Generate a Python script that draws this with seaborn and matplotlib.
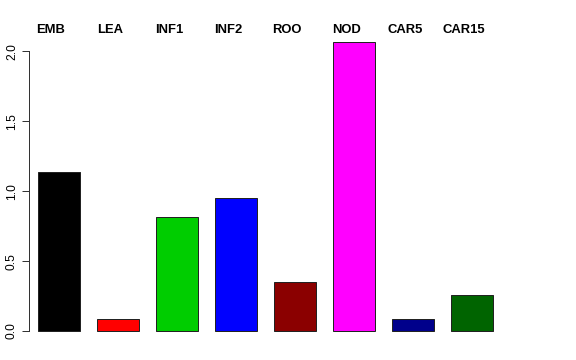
import matplotlib
matplotlib.use("Agg")
import matplotlib.pyplot as plt
import matplotlib.transforms as mtransforms
import seaborn as sns
import pandas as pd

categories = ["EMB", "LEA", "INF1", "INF2", "ROO", "NOD", "CAR5", "CAR15"]
values = [1.14, 0.086, 0.815, 0.952, 0.35, 2.065, 0.086, 0.258]
bar_colors = ["#000000", "#FF0000", "#00CD00", "#0000FF", "#8B0000", "#FF00FF", "#00008B", "#006400"]
yticks = [0.0, 0.5, 1.0, 1.5, 2.0]
ytick_labels = ["0.0", "0.5", "1.0", "1.5", "2.0"]

sns.set_style("white")
plt.rcParams["font.family"] = ["Liberation Sans", "DejaVu Sans"]
plt.rcParams["text.color"] = "black"
plt.rcParams["ytick.color"] = "black"

W, H = 576, 360
fig = plt.figure(figsize=(W / 72, H / 72), dpi=72)

px_per_unit_x = 59.0
x0_center = 59.0
ax_left_px, ax_right_px = 29.0, 547.0
y_zero_px = 331.0
px_per_unit_y = 139.75
ax_top_px, ax_bot_px = 32.0, 343.0

ax = fig.add_axes([ax_left_px / W, 1 - ax_bot_px / H,
                   (ax_right_px - ax_left_px) / W, (ax_bot_px - ax_top_px) / H])

df = pd.DataFrame({"cat": categories, "val": values})
sns.barplot(data=df, x="cat", y="val", hue="cat", palette=bar_colors,
            order=categories, hue_order=categories, legend=False,
            width=42 / 59, edgecolor="#222222", linewidth=1.0, ax=ax,
            saturation=1)

ax.set_xlim((ax_left_px - x0_center) / px_per_unit_x,
            (ax_right_px - x0_center) / px_per_unit_x)
ax.set_ylim(-(ax_bot_px - y_zero_px) / px_per_unit_y,
            (y_zero_px - ax_top_px) / px_per_unit_y)

for s in ["top", "right", "bottom"]:
    ax.spines[s].set_visible(False)
ax.spines["left"].set_bounds(0, 2.0)
ax.spines["left"].set_color("#333333")
ax.spines["left"].set_linewidth(1.0)
ax.set_xticks([])
ax.set_xlabel("")
ax.set_ylabel("")
ax.set_yticks(yticks)
ax.set_yticklabels(ytick_labels, rotation=90, va="center", fontsize=12, color="black")
ax.tick_params(axis="y", direction="out", length=7, width=1.0, color="#333333", pad=4, left=True)
ax.grid(False)

trans = mtransforms.blended_transform_factory(ax.transData, fig.transFigure)
for i, c in enumerate(categories):
    ax.text(i - 8 / px_per_unit_x, 1 - 30 / H, c, transform=trans,
            ha="center", va="center", fontsize=13, fontweight="bold", color="black")

fig.savefig("out.png", dpi=72)
